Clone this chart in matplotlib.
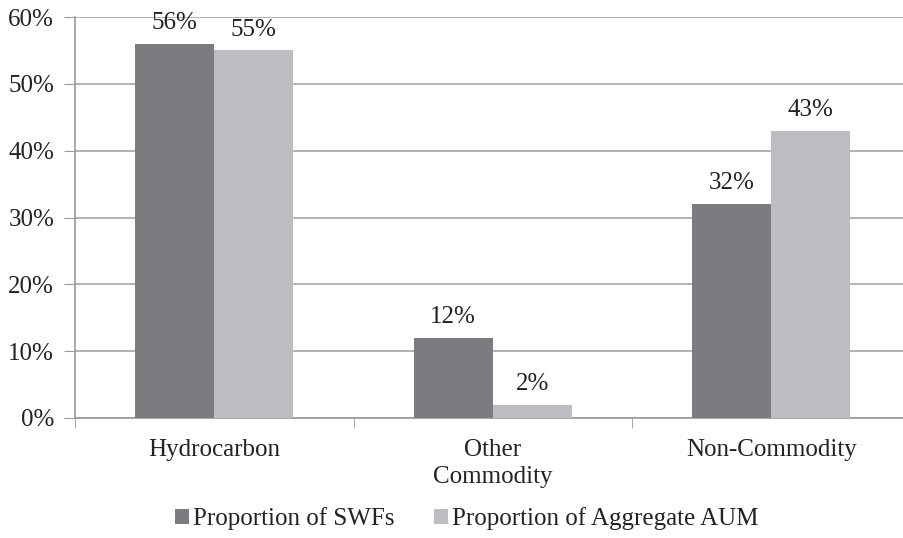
import numpy as np
import matplotlib.pyplot as plt
from matplotlib.ticker import FixedLocator

categories = ['Hydrocarbon', 'Other\nCommodity', 'Non-Commodity']
swfs = [56, 12, 32]
aum = [55, 2, 43]
series_names = ['Proportion of SWFs', 'Proportion of Aggregate AUM']
yticks = [0, 10, 20, 30, 40, 50, 60]

plt.rcParams['font.family'] = ['Liberation Serif', 'DejaVu Serif']
fs = 18

fig = plt.figure(figsize=(9.04, 5.38), dpi=100)
ax = fig.add_axes([75/904, 1-418/538, 835.5/904, 401/538])

x = np.arange(len(categories))
w = 0.284
dark = '#7b7c80'
light = '#bcbdc1'
b1 = ax.bar(x - w/2, swfs, w, color=dark, label=series_names[0], zorder=3)
b2 = ax.bar(x + w/2, aum, w, color=light, label=series_names[1], zorder=3)

for bars, vals in ((b1, swfs), (b2, aum)):
    for r, v in zip(bars, vals):
        ax.annotate(f'{v}%', (r.get_x() + r.get_width()/2, v),
                    xytext=(0, 7), textcoords='offset points',
                    ha='center', va='bottom', fontsize=fs, color='#222222')

ax.set_xlim(-0.5, 2.5)
ax.set_ylim(0, 60)
ax.set_yticks(yticks)
ax.set_yticklabels([f'{t}%' for t in yticks], fontsize=fs, color='#222222')
ax.set_xticks(x)
ax.set_xticklabels(categories, fontsize=fs, color='#222222', linespacing=1.3)
ax.xaxis.set_minor_locator(FixedLocator([-0.5, 0.5, 1.5, 2.5]))
ax.tick_params(axis='x', which='major', length=0, pad=15)
ax.tick_params(axis='x', which='minor', length=7, color='#999999')
ax.tick_params(axis='y', length=8, color='#999999', pad=7)

ax.grid(axis='y', color='#a6a6a6', linewidth=1.2, zorder=0)
for s in ['top', 'right']:
    ax.spines[s].set_visible(False)
for s in ['left', 'bottom']:
    ax.spines[s].set_color('#999999')
    ax.spines[s].set_linewidth(1.2)

fig.legend(loc='center', bbox_to_anchor=(467/904, 1-519/538), ncol=2, frameon=False,
           fontsize=fs, handlelength=0.56, handleheight=0.56, handletextpad=0.15,
           columnspacing=1.6, labelcolor='#222222')

fig.savefig('out.png', dpi=100)
